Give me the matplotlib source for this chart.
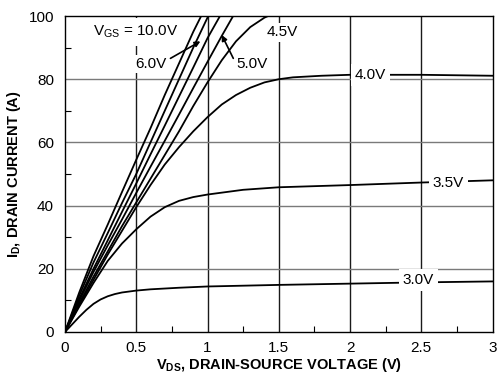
import numpy as np
import matplotlib
matplotlib.use("Agg")
import matplotlib.pyplot as plt

plt.rcParams['font.family'] = ['Liberation Sans', 'DejaVu Sans']
plt.rcParams['mathtext.fontset'] = 'custom'
plt.rcParams['mathtext.rm'] = 'Liberation Sans'
plt.rcParams['mathtext.it'] = 'Liberation Sans'
plt.rcParams['mathtext.bf'] = 'Liberation Sans:bold'

# Output characteristics
# (VDS in volts, ID in amps)
v_10 = [0, 0.1, 0.2, 0.3, 0.4, 0.5, 0.6, 0.7, 0.8, 0.9, 1.0]
i_10 = [0, 12.5, 24, 34, 44.3, 54.5, 64.5, 75, 85, 95, 104]

v_6 = [0, 0.1, 0.2, 0.3, 0.4, 0.5, 0.6, 0.7, 0.8, 0.9, 1.0, 1.1]
i_6 = [0, 11.5, 22, 31.3, 40.8, 50, 60, 70, 80, 90, 99.5, 108]

v_55 = [0, 0.1, 0.2, 0.3, 0.4, 0.5, 0.6, 0.7, 0.8, 0.9, 1.0, 1.1]
i_55 = [0, 10.5, 20, 29, 38, 47, 56.2, 65.3, 74.5, 83.7, 93, 101]

v_5 = [0, 0.1, 0.2, 0.3, 0.4, 0.5, 0.6, 0.7, 0.8, 0.9, 1.0, 1.1, 1.2]
i_5 = [0, 9.8, 19, 27.4, 35.6, 44, 52.3, 60.5, 68.8, 77.2, 85.5, 93.7, 101.6]

v_45 = [0, 0.1, 0.2, 0.3, 0.4, 0.5, 0.6, 0.7, 0.8, 0.9, 1.0, 1.1, 1.2, 1.3, 1.4, 1.5]
i_45 = [0, 9, 17.5, 25.5, 33.5, 41, 48.5, 56, 63.5, 71.5, 79, 86, 92, 96.5, 99.5, 101.5]

v_40 = [0, 0.1, 0.2, 0.3, 0.4, 0.5, 0.6, 0.7, 0.8, 0.9, 1.0, 1.1, 1.2, 1.3,
        1.4, 1.5, 1.6, 1.8, 2.0, 2.5, 3.0]
i_40 = [0, 8.5, 16.5, 24.5, 32, 39.5, 46.5, 53, 58.5, 63.5, 68, 72, 75, 77.3,
        79, 80, 80.6, 81.1, 81.4, 81.4, 81.1]

v_35 = [0, 0.1, 0.2, 0.3, 0.4, 0.5, 0.6, 0.7, 0.8, 0.9, 1.0, 1.25, 1.5, 2.0, 2.5, 3.0]
i_35 = [0, 8, 15.5, 22.5, 28, 32.5, 36.5, 39.5, 41.5, 42.7, 43.5, 45, 45.8, 46.5, 47.3, 48]

v_30 = [0, 0.05, 0.1, 0.15, 0.2, 0.25, 0.3, 0.35, 0.4, 0.5, 0.6, 0.8, 1.0, 1.5, 2.0, 2.5, 3.0]
i_30 = [0, 2.4, 4.8, 7.0, 8.9, 10.3, 11.3, 12.0, 12.5, 13.1, 13.5, 14.0, 14.4, 14.9, 15.3, 15.7, 16]

curves = [(v_10, i_10), (v_6, i_6), (v_55, i_55), (v_5, i_5),
          (v_45, i_45), (v_40, i_40), (v_35, i_35), (v_30, i_30)]

x_ticks = [0, 0.5, 1, 1.5, 2, 2.5, 3]
x_tick_labels = ['0', '0.5', '1', '1.5', '2', '2.5', '3']
y_ticks = [0, 20, 40, 60, 80, 100]

fs = 11

fig = plt.figure(figsize=(4.98, 3.73), dpi=100)
ax = fig.add_axes([0.1305, 0.11, 0.8585, 0.847])

for v, i in curves:
    ax.plot(v, i, color='black', linewidth=1.3, zorder=3, clip_on=True)

ax.set_xlim(0, 3)
ax.set_ylim(0, 100)

# grid: dark vertical, grey horizontal
for xv in x_ticks[1:-1]:
    ax.axvline(xv, color='#1a1a1a', linewidth=1.0, zorder=1)
for yv in y_ticks[1:-1]:
    ax.axhline(yv, color='#7a7a7a', linewidth=1.0, zorder=1)

ax.set_xticks(x_ticks)
ax.set_xticklabels(x_tick_labels)
ax.set_yticks(y_ticks)
ax.set_xticks(np.arange(0.25, 3, 0.5), minor=True)
ax.set_yticks(np.arange(10, 100, 20), minor=True)
ax.tick_params(axis='both', which='major', length=0, labelsize=fs, pad=8)
ax.tick_params(axis='x', which='major', pad=6.5)
ax.tick_params(axis='both', which='minor', direction='in', length=4, width=0.8)
for s in ax.spines.values():
    s.set_linewidth(1.0)
    s.set_color('black')

ax.set_xlabel(r'$\mathbf{V_{DS}}$, DRAIN-SOURCE VOLTAGE (V)',
              fontsize=10.5, fontweight='bold', labelpad=0.5)
ax.set_ylabel(r'$\mathbf{I_{D}}$, DRAIN CURRENT (A)',
              fontsize=10.5, fontweight='bold', labelpad=4)

box = dict(facecolor='white', edgecolor='none', pad=1.5)
ax.text(0.2, 95, r'$\mathrm{V_{GS}}$ = 10.0V', fontsize=fs, ha='left', va='center',
        bbox=dict(facecolor='white', edgecolor='none', pad=4), zorder=4)
ax.text(0.49, 84.8, '6.0V', fontsize=fs, ha='left', va='center', bbox=box, zorder=4)
ax.annotate('', xy=(0.95, 92), xytext=(0.74, 86.6),
            arrowprops=dict(arrowstyle='-|>', color='black', lw=1.2,
                            mutation_scale=8, shrinkA=0, shrinkB=0), zorder=5)
ax.text(1.2, 84.8, '5.0V', fontsize=fs, ha='left', va='center', bbox=box, zorder=4)
ax.annotate('', xy=(1.1, 94), xytext=(1.181, 86.6),
            arrowprops=dict(arrowstyle='-|>', color='black', lw=1.2,
                            mutation_scale=8, shrinkA=0, shrinkB=0), zorder=5)
ax.text(1.415, 94.8, '4.5V', fontsize=fs, ha='left', va='center', bbox=box, zorder=4)
ax.text(2.145, 81.3, '4.0V', fontsize=fs, ha='center', va='center',
        bbox=dict(facecolor='white', edgecolor='none', pad=3), zorder=4)
ax.text(2.69, 47.2, '3.5V', fontsize=fs, ha='center', va='center',
        bbox=dict(facecolor='white', edgecolor='none', pad=3), zorder=4)
ax.text(2.48, 16.5, '3.0V', fontsize=fs, ha='center', va='center',
        bbox=dict(facecolor='white', edgecolor='none', pad=3), zorder=4)

plt.savefig('out.png', dpi=100)
